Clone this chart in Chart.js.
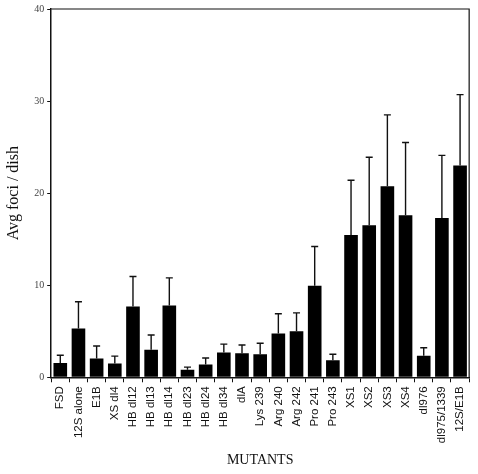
<!DOCTYPE html>
<html><head><meta charset="utf-8">
<script src="https://cdn.jsdelivr.net/npm/chart.js@4/dist/chart.umd.min.js"></script>
<style>html,body{margin:0;padding:0;background:#fff}#wrap{width:478px;height:474px}</style>
</head><body><div id="wrap"><canvas id="c" width="478" height="474"></canvas></div>
<script>
const categories = ["FSD","12S alone","E1B","XS dl4","HB dl12","HB dl13","HB dl14","HB dl23","HB dl24","HB dl34","dlA","Lys 239","Arg 240","Arg 242","Pro 241","Pro 243","XS1","XS2","XS3","XS4","dl976","dl975/1339","12S/E1B"];
const avgFoci = [1.55,5.3,2.05,1.5,7.7,3.0,7.8,0.83,1.4,2.7,2.6,2.5,4.75,5.0,9.95,1.84,15.46,16.5,20.75,17.6,2.34,17.3,23.0];
const errorTop = [2.4,8.2,3.4,2.3,10.95,4.6,10.8,1.1,2.1,3.6,3.5,3.7,6.9,7.0,14.2,2.5,21.4,23.9,28.5,25.5,3.2,24.1,30.7];
const yTicks = [0,10,20,30,40];

const errorBars = {
  id:'errorBars',
  afterDatasetsDraw(chart){
    const ctx=chart.ctx, meta=chart.getDatasetMeta(0), ys=chart.scales.y;
    ctx.save(); ctx.strokeStyle='#111'; ctx.lineWidth=1.4;
    meta.data.forEach((bar,i)=>{
      const yt=ys.getPixelForValue(errorTop[i]);
      ctx.beginPath(); ctx.moveTo(bar.x,bar.y); ctx.lineTo(bar.x,yt);
      ctx.moveTo(bar.x-3.5,yt); ctx.lineTo(bar.x+3.5,yt); ctx.stroke();
    });
    ctx.restore();
  }
};
const frame = {
  id:'frame',
  afterDraw(chart){
    const a=chart.chartArea, ctx=chart.ctx;
    ctx.save(); ctx.strokeStyle='#111'; ctx.lineWidth=1.2;
    ctx.beginPath(); ctx.moveTo(a.left,a.top); ctx.lineTo(a.right,a.top); ctx.lineTo(a.right,a.bottom); ctx.stroke();
    ctx.restore();
  }
};

new Chart(document.getElementById('c'),{
  type:'bar',
  data:{labels:categories,datasets:[{data:avgFoci,backgroundColor:'#000',borderWidth:0,categoryPercentage:1,barPercentage:0.75}]},
  options:{
    responsive:false,animation:false,
    layout:{padding:{left:0,right:6,top:8,bottom:1}},
    plugins:{legend:{display:false},tooltip:{enabled:false}},
    scales:{
      x:{
        grid:{display:true,drawOnChartArea:false,drawTicks:true,tickLength:5,color:'#111',lineWidth:1},
        border:{display:true,color:'#111',width:1.5},
        ticks:{maxRotation:90,minRotation:90,color:'#111',padding:4,font:{family:'Liberation Sans',size:11.5}},
        title:{display:true,text:'MUTANTS',color:'#111',font:{family:'Liberation Serif',size:14},padding:{top:5}}
      },
      y:{
        min:0,max:40,
        afterBuildTicks(s){s.ticks=yTicks.map(v=>({value:v}));},
        grid:{display:true,drawOnChartArea:false,drawTicks:true,tickLength:4,color:'#111'},
        border:{display:true,color:'#111',width:1.5},
        ticks:{color:'#444',padding:3,font:{family:'Liberation Serif',size:10}},
        title:{display:true,text:'Avg foci / dish',color:'#111',font:{family:'Liberation Serif',size:16},padding:{bottom:8}}
      }
    }
  },
  plugins:[errorBars,frame]
});
</script></body></html>
